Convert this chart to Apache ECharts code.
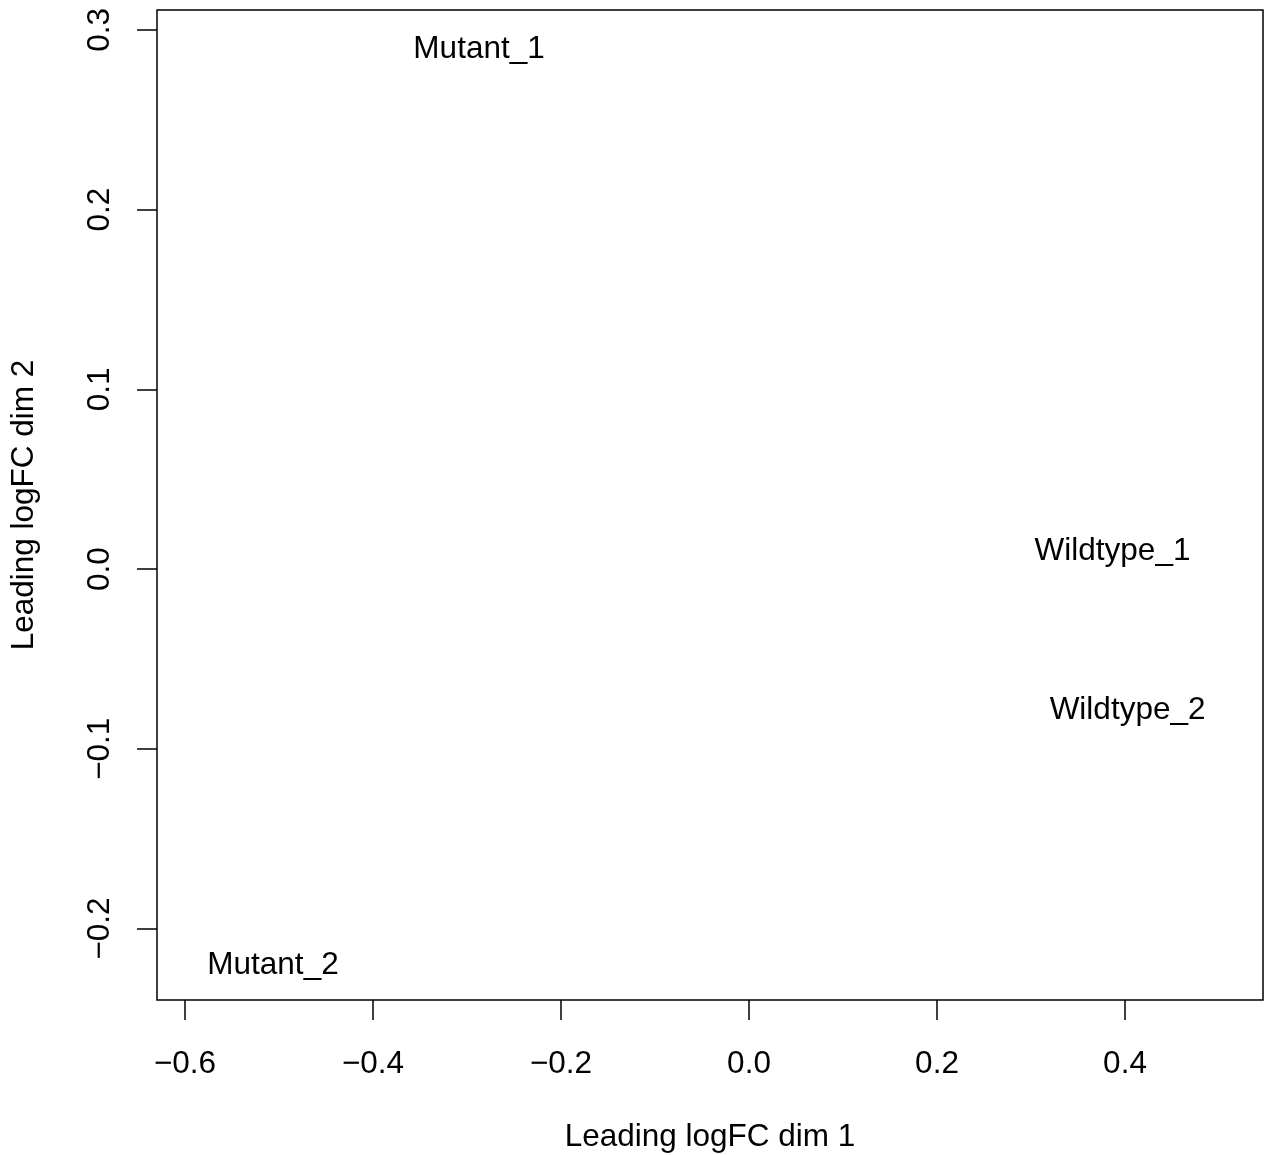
<!DOCTYPE html>
<html>
<head>
<meta charset="utf-8">
<script src="https://cdn.jsdelivr.net/npm/echarts@6/dist/echarts.min.js"></script>
<style>
html,body{margin:0;padding:0;background:#fff;}
#chart{width:1272px;height:1155px;}
</style>
</head>
<body>
<div id="chart"></div>
<script>
// Sample labels and MDS coordinates
var sampleNames = ["Mutant_1", "Mutant_2", "Wildtype_1", "Wildtype_2"];
var dim1 = [-0.2872, -0.5064, 0.3867, 0.4027];
var dim2 = [0.2910, -0.2191, 0.0114, -0.0771];
// Tick values
var xTicks = [-0.6, -0.4, -0.2, 0.0, 0.2, 0.4];
var yTicks = [-0.2, -0.1, 0.0, 0.1, 0.2, 0.3];
var xTitle = "Leading logFC dim 1";
var yTitle = "Leading logFC dim 2";

var FONT = "'Liberation Sans', Arial, Helvetica, sans-serif";
var FS = 31.5;
function fmt(v){
  var s = v.toFixed(1);
  return s.replace('-', '\u2212');
}

var points = sampleNames.map(function(n, i){ return {name: n, value: [dim1[i], dim2[i]]}; });

var chart = echarts.init(document.getElementById('chart'), null, {renderer: 'canvas'});
chart.setOption({
  backgroundColor: '#ffffff',
  animation: false,
  grid: {left: 157, right: 9, top: 10, bottom: 155, containLabel: false, outerBoundsMode: 'none',
         show: true, borderColor: '#000', borderWidth: 1.5, backgroundColor: 'transparent'},
  xAxis: {
    type: 'value', min: -0.6298, max: 0.5468,
    name: xTitle, nameLocation: 'middle', nameGap: 121,
    nameTextStyle: {fontFamily: FONT, fontSize: FS, color: '#000'},
    axisLine: {show: false, onZero: false},
    splitLine: {show: false},
    axisTick: {show: true, length: 20, inside: false, customValues: xTicks, lineStyle: {color: '#000', width: 1.5}},
    axisLabel: {show: true, customValues: xTicks, margin: 48, fontFamily: FONT, fontSize: FS, color: '#000', formatter: fmt}
  },
  yAxis: {
    type: 'value', min: -0.2398, max: 0.3111,
    name: yTitle, nameLocation: 'middle', nameGap: 117,
    nameTextStyle: {fontFamily: FONT, fontSize: FS, color: '#000'},
    axisLine: {show: false, onZero: false},
    splitLine: {show: false},
    axisTick: {show: true, length: 20, inside: false, customValues: yTicks, lineStyle: {color: '#000', width: 1.5}},
    axisLabel: {show: true, customValues: yTicks, rotate: 90, margin: 41, fontFamily: FONT, fontSize: FS, color: '#000', formatter: fmt}
  },
  series: [{
    type: 'scatter',
    data: points,
    symbol: 'circle',
    symbolSize: 4,
    itemStyle: {color: 'rgba(255,255,255,0)'},
    labelLayout: {hideOverlap: false},
    label: {
      show: true, position: [2, 5], formatter: '{b}',
      opacity: 1, textBorderWidth: 0, textShadowBlur: 0,
      fontFamily: FONT, fontSize: FS, color: '#000000', align: 'center', verticalAlign: 'middle'
    },
    emphasis: {label: {color: '#000000'}}
  }]
});
</script>
</body>
</html>
